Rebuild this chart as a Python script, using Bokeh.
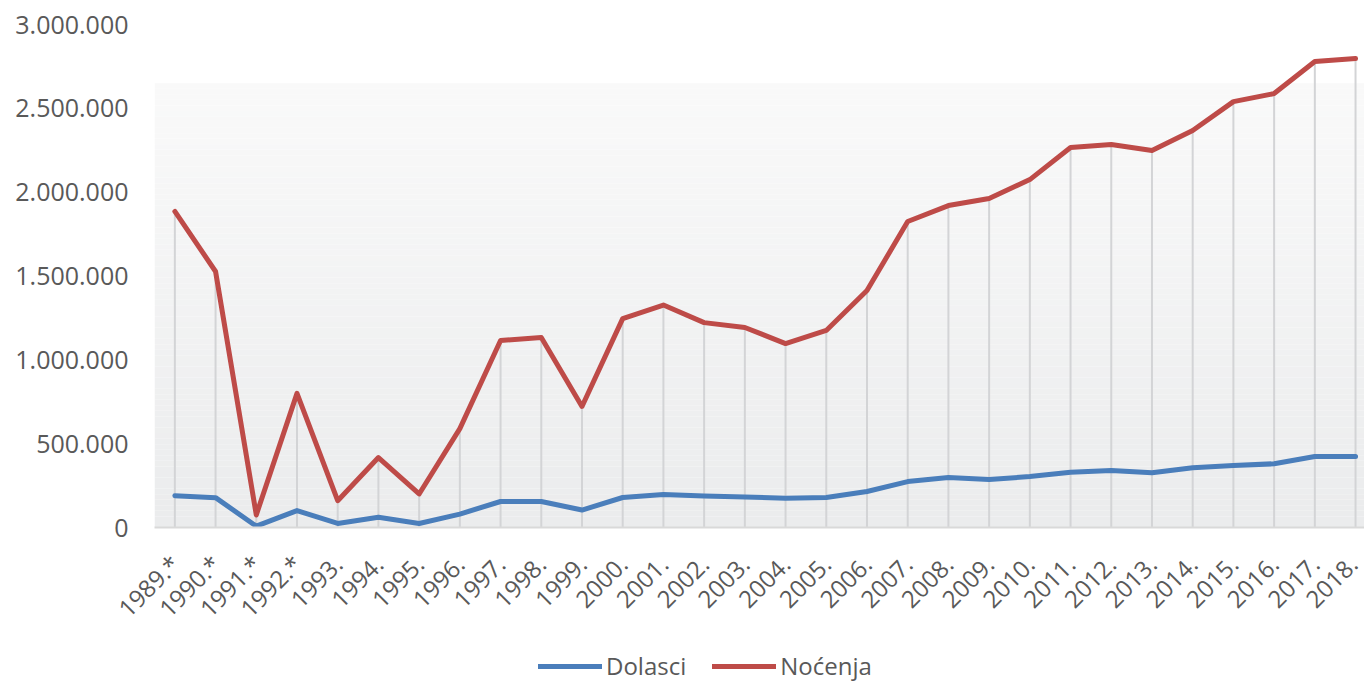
import numpy as np
from bokeh.plotting import figure
from bokeh.layouts import column
from bokeh.models import Range1d, FixedTicker, Legend, LegendItem, CustomJSTickFormatter
from bokeh.embed import file_html
from bokeh.resources import INLINE

years = ["1989.*", "1990.*", "1991.*", "1992.*", "1993.", "1994.", "1995.", "1996.", "1997.", "1998.",
         "1999.", "2000.", "2001.", "2002.", "2003.", "2004.", "2005.", "2006.", "2007.", "2008.",
         "2009.", "2010.", "2011.", "2012.", "2013.", "2014.", "2015.", "2016.", "2017.", "2018."]

dolasci = [190000, 178000, 8000, 101000, 24000, 61000, 24000, 80000, 155000, 155000,
           104000, 179000, 197000, 188000, 182000, 174000, 179000, 215000, 274000, 298000,
           286000, 304000, 330000, 340000, 326000, 356000, 370000, 380000, 423000, 423000]

nocenja = [1885000, 1527000, 75000, 800000, 160000, 417000, 200000, 590000, 1115000, 1133000,
           722000, 1246000, 1327000, 1222000, 1193000, 1097000, 1175000, 1413000, 1825000, 1920000,
           1962000, 2075000, 2266000, 2284000, 2248000, 2368000, 2540000, 2588000, 2779000, 2797000]

y_ticks = [0, 500000, 1000000, 1500000, 2000000, 2500000, 3000000]
series_names = ["Dolasci", "Noćenja"]

FONT = "Open Sans"
TXT = "#595959"
BLUE = "#4a7ebb"
RED = "#be4b48"

x = list(range(len(years)))

p = figure(width=1364, height=648, output_backend="svg", toolbar_location=None,
           x_range=Range1d(-0.5, 29.22), y_range=Range1d(0, 3000000),
           min_border_left=154, min_border_right=0, min_border_top=24, min_border_bottom=121)
p.outline_line_color = None
p.xgrid.grid_line_color = None
p.ygrid.grid_line_color = None
p.background_fill_color = "white"
p.border_fill_color = "white"

# gradient background (decoration)
n = 80
top_val = 2650000
edges = np.linspace(0, top_val, n + 1)
c0 = np.array([235, 236, 237])
c1 = np.array([250, 250, 250])
cols = []
for i in range(n):
    t = (i + 0.5) / n
    c = (c0 + (c1 - c0) * t).astype(int)
    cols.append("#%02x%02x%02x" % tuple(c))
p.quad(left=-0.5, right=29.8, bottom=edges[:-1], top=edges[1:], fill_color=cols, line_color=None)

# drop lines
p.segment(x0=x, y0=[0] * len(x), x1=x, y1=nocenja, line_color="#d3d4d6", line_width=2)

p.line(x, dolasci, line_color=BLUE, line_width=5, line_join="round", line_cap="round")
p.line(x, nocenja, line_color=RED, line_width=5, line_join="round", line_cap="round")

# axes
p.xaxis.ticker = FixedTicker(ticks=x)
p.xaxis.major_label_overrides = {i: years[i] for i in x}
p.xaxis.major_label_orientation = np.pi / 4
p.xaxis.axis_line_color = "#d9d9d9"
p.xaxis.axis_line_width = 2
p.xaxis.major_tick_line_color = None
p.xaxis.minor_tick_line_color = None
p.xaxis.major_label_text_font = FONT
p.xaxis.major_label_text_font_size = "24px"
p.xaxis.major_label_text_color = TXT
p.xaxis.major_label_standoff = 26

p.yaxis.ticker = FixedTicker(ticks=y_ticks)
p.yaxis.formatter = CustomJSTickFormatter(code="return tick.toFixed(0).replace(/\\B(?=(\\d{3})+(?!\\d))/g, '.');")
p.yaxis.axis_line_color = None
p.yaxis.major_tick_line_color = None
p.yaxis.minor_tick_line_color = None
p.yaxis.major_label_text_font = FONT
p.yaxis.major_label_text_font_size = "25px"
p.yaxis.major_label_text_color = TXT
p.yaxis.major_label_standoff = 20

# legend strip
lf = figure(width=1364, height=34, output_backend="svg", toolbar_location=None,
            x_range=Range1d(0, 1), y_range=Range1d(0, 1),
            min_border_left=0, min_border_right=0, min_border_top=0, min_border_bottom=0)
lf.axis.visible = False
lf.grid.visible = False
lf.outline_line_color = None
lf.background_fill_color = "white"
lf.border_fill_color = "white"
lb = lf.line([-5, -4], [-5, -4], line_color=BLUE, line_width=5, line_cap="round")
lr = lf.line([-5, -4], [-5, -4], line_color=RED, line_width=5, line_cap="round")
legend = Legend(items=[LegendItem(label=series_names[0], renderers=[lb]),
                       LegendItem(label=series_names[1], renderers=[lr])],
                orientation="horizontal", location=(384, 0))
legend.label_text_font = FONT
legend.label_text_font_size = "24px"
legend.label_text_color = TXT
legend.glyph_width = 64
legend.glyph_height = 20
legend.label_standoff = 4
legend.spacing = 26
legend.border_line_color = None
legend.background_fill_alpha = 0
legend.margin = 0
legend.padding = 0
lf.add_layout(legend, "center")

layout = column(p, lf, spacing=0)
open("out.html", "w").write(file_html(layout, INLINE))
